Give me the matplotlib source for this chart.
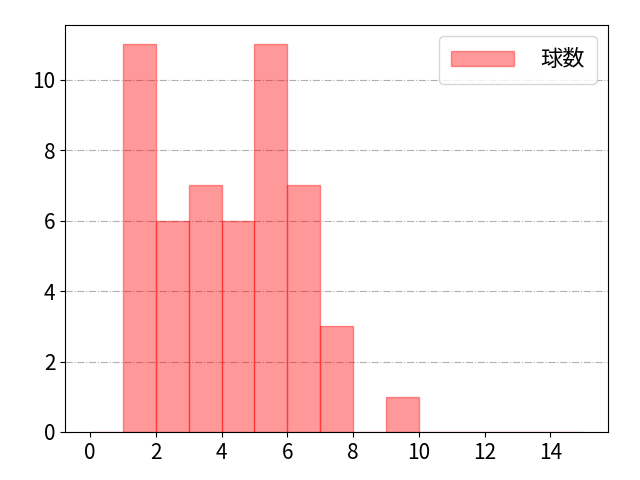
import matplotlib
matplotlib.use("Agg")
import matplotlib.pyplot as plt
import numpy as np

plt.rcParams['font.family'] = ['Noto Sans CJK JP', 'DejaVu Sans']

# 球数ヒストグラム (ビン幅1)
bin_edges = list(range(0, 16))
bin_left = [1, 2, 3, 4, 5, 6, 7, 8, 9]
counts = [11, 6, 7, 6, 11, 7, 3, 0, 1]

fig, ax = plt.subplots(figsize=(6.4, 4.8), dpi=100)
centers = np.array(bin_left) + 0.5
ax.hist(centers, bins=bin_edges, weights=counts, color='red', alpha=0.4,
        edgecolor='red', linewidth=1, label='球数')
# 0..15 の範囲を確保
ax.set_xlim(-0.75, 15.75)
ax.set_ylim(0, 11.55)
ax.set_xticks([0, 2, 4, 6, 8, 10, 12, 14])
ax.set_yticks([0, 2, 4, 6, 8, 10])
ax.tick_params(labelsize=15)
ax.grid(axis='y', linestyle='-.', color='#b0b0b0', linewidth=0.8)
ax.set_axisbelow(True)
ax.legend(loc='upper right', fontsize=16, handlelength=2.8, handletextpad=1.2,
          borderpad=0.55)

fig.subplots_adjust(left=0.102, right=0.95, bottom=0.1, top=0.948)
fig.savefig("out.png")
